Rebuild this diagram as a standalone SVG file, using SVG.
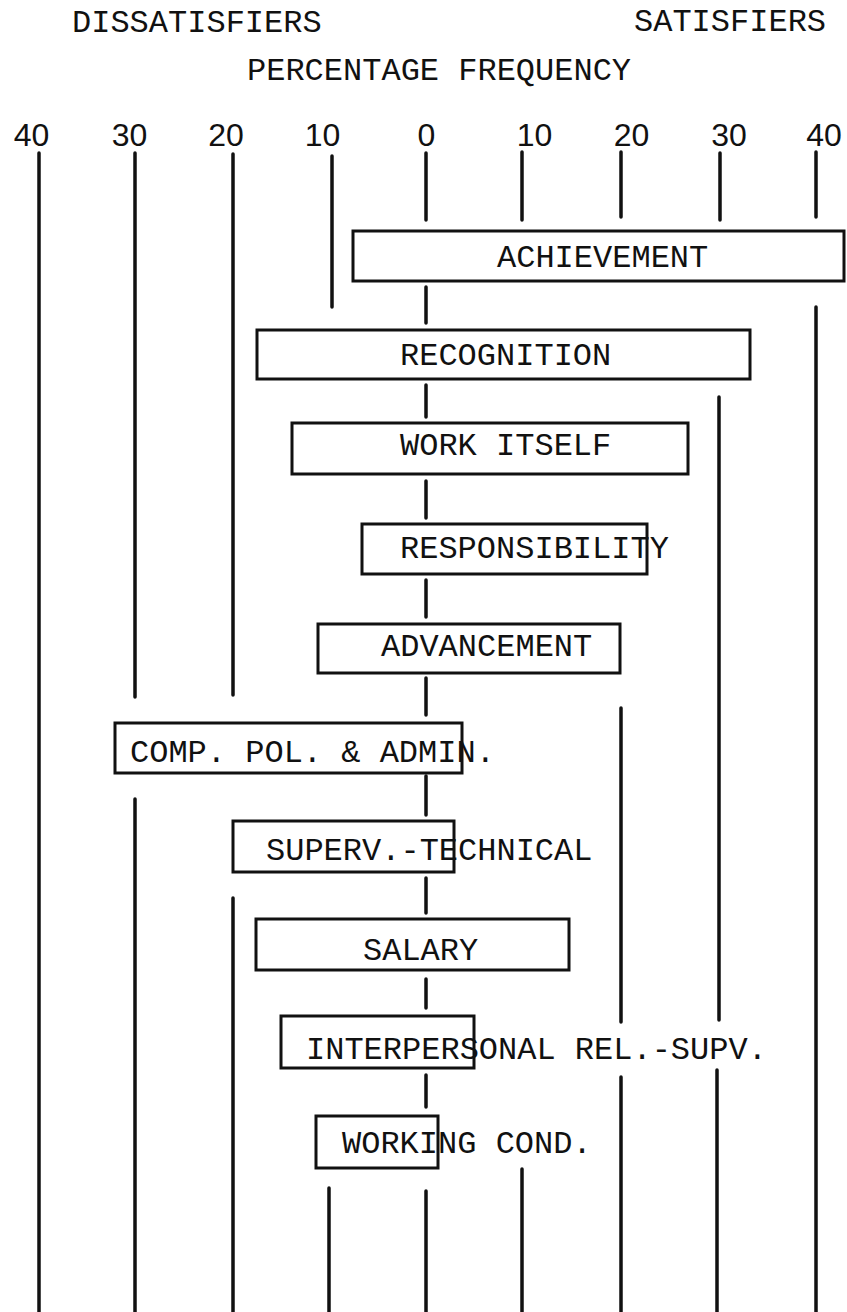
<svg xmlns="http://www.w3.org/2000/svg" width="847" height="1312" viewBox="0 0 847 1312">
<style>
  .t { font-family: "Liberation Mono", "DejaVu Sans Mono", monospace; font-size: 32px; fill: #111; }
  .n { font-family: "Liberation Sans", Arial, sans-serif; font-size: 32px; fill: #111; text-anchor: middle; }
  .box { fill: none; stroke: #111; stroke-width: 3; }
  .ln { stroke: #111; stroke-width: 3.5; stroke-linecap: round; fill: none; }
</style>
<rect x="0" y="0" width="847" height="1312" fill="#fff"/>
<g id="headers">
  <text class="t" x="72" y="32">DISSATISFIERS</text>
  <text class="t" x="634" y="31">SATISFIERS</text>
  <text class="t" x="247" y="80">PERCENTAGE FREQUENCY</text>
</g>
<g id="axis-labels">
  <text class="n" x="31.5" y="146">40</text>
  <text class="n" x="129.5" y="146">30</text>
  <text class="n" x="226" y="146">20</text>
  <text class="n" x="322.5" y="146">10</text>
  <text class="n" x="426.5" y="146">0</text>
  <text class="n" x="534.5" y="146">10</text>
  <text class="n" x="631.5" y="146">20</text>
  <text class="n" x="729" y="146">30</text>
  <text class="n" x="824" y="146">40</text>
</g>
<g id="connectors">
  <path class="ln" d="M39 153V1312"/>
  <path class="ln" d="M135 153V697M135 799V1312"/>
  <path class="ln" d="M233 154V695M233 898V1312"/>
  <path class="ln" d="M332 156V307M329 1188V1312"/>
  <path class="ln" d="M426 153V220M426 287V323M426 385V417M426 481V518M426 580V617M426 678V715M426 776V815M426 878V913M426 979V1008M426 1075V1107M426 1191V1312"/>
  <path class="ln" d="M522 152V220M522 1169V1312"/>
  <path class="ln" d="M621 152V217M621 708V1022M621 1077V1312"/>
  <path class="ln" d="M720 153V220M719 397V1020M717 1070V1312"/>
  <path class="ln" d="M816 152V217M816 307V1312"/>
</g>
<g id="achievement">
  <rect class="box" x="353" y="231" width="491" height="50"/>
  <text class="t" x="497" y="267">ACHIEVEMENT</text>
</g>
<g id="recognition">
  <rect class="box" x="257" y="330" width="493" height="49"/>
  <text class="t" x="400" y="365">RECOGNITION</text>
</g>
<g id="work-itself">
  <rect class="box" x="292" y="423" width="396" height="51"/>
  <text class="t" x="400" y="455">WORK ITSELF</text>
</g>
<g id="responsibility">
  <rect class="box" x="362" y="524" width="285" height="50"/>
  <text class="t" x="400" y="558">RESPONSIBILITY</text>
</g>
<g id="advancement">
  <rect class="box" x="318" y="624" width="302" height="49"/>
  <text class="t" x="381" y="656">ADVANCEMENT</text>
</g>
<g id="comp-pol">
  <rect class="box" x="115" y="723" width="347" height="50"/>
  <text class="t" x="130" y="762">COMP. POL. &amp; ADMIN.</text>
</g>
<g id="superv-technical">
  <rect class="box" x="233" y="821" width="221" height="51"/>
  <text class="t" x="266" y="860">SUPERV.-TECHNICAL</text>
</g>
<g id="salary">
  <rect class="box" x="256" y="919" width="313" height="51"/>
  <text class="t" x="363" y="960">SALARY</text>
</g>
<g id="interpersonal">
  <rect class="box" x="281" y="1016" width="193" height="52"/>
  <text class="t" x="306" y="1059">INTERPERSONAL REL.-SUPV.</text>
</g>
<g id="working-cond">
  <rect class="box" x="316" y="1116" width="122" height="52"/>
  <text class="t" x="342" y="1153">WORKING COND.</text>
</g>
</svg>
